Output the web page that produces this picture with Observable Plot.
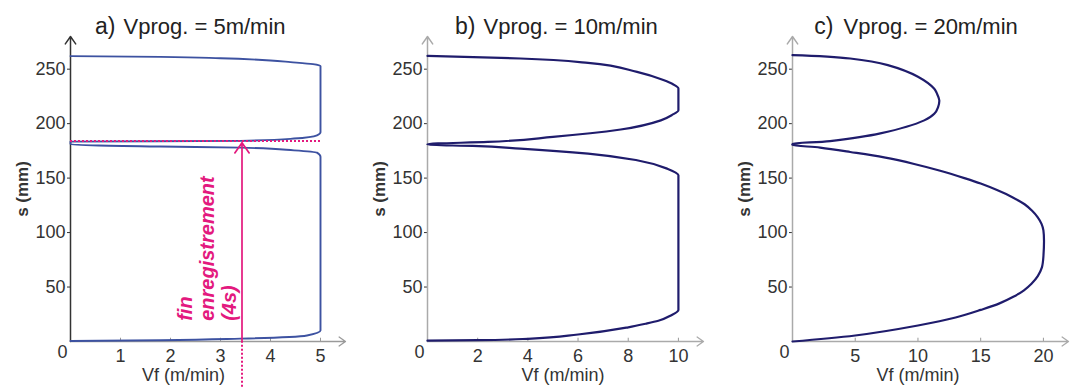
<!DOCTYPE html>
<html>
<head>
<meta charset="utf-8">
<script src="https://cdn.jsdelivr.net/npm/d3@7"></script>
<script src="https://cdn.jsdelivr.net/npm/@observablehq/plot@0.6"></script>
<style>
  html, body { margin: 0; padding: 0; background: #fff; }
  #wrap { position: relative; width: 1070px; height: 388px; overflow: hidden; }
  .panel { position: absolute; top: 0; }
  svg { overflow: visible; }
</style>
</head>
<body>
<div id="wrap"></div>
<script>
// ---- data (s in mm, Vf in m/min) ----
const yTicks = [50, 100, 150, 200, 250];
const yMax = 280;

// a) Vprog = 5 m/min
const aS = [0.5, 1.2, 2.6, 5.5, 10, 169.5, 173.4, 175.5, 178, 179, 181,
            183.5, 184.2, 186.3, 189.3, 192, 253, 254.6, 256.5, 258, 260, 261.3, 262];
const aV = [0, 1.8, 3.4, 4.73, 5, 5, 4.93, 4.47, 3.4, 1.8, 0,
            0, 3.4, 4.47, 4.93, 5, 5, 4.85, 4.4, 4, 3, 1.8, 0];
const aXTicks = [1, 2, 3, 4, 5];

// b) Vprog = 10 m/min
const bS = [0.8, 1.2, 2.5, 6.4, 13, 16.3, 19, 23.9, 29, 152.6, 158.7, 166.4, 172.5, 177.1, 179.5, 180.6,
            181.2, 183.2, 187.8, 194.6, 203, 208, 212.3, 232.3, 236, 240, 247.5, 255.8, 259.8, 262.2];
const bV = [0, 2, 4, 6, 8, 8.7, 9.2, 9.7, 10, 10, 9.55, 8.35, 6.4, 3.7, 1.8, 0,
            0, 2.4, 5.0, 7.7, 9.3, 9.75, 10, 10, 9.8, 9.4, 8.35, 6.4, 3.7, 0];
const bXTicks = [2, 4, 6, 8, 10];

// c) Vprog = 20 m/min
const cS = [0, 5.5, 14.7, 22, 29, 35, 41, 47, 53, 60, 68, 78, 102, 108, 114, 120, 126, 132, 139, 145, 150, 157, 163, 169, 174, 178, 180.6,
            181.2, 184, 191, 203, 209, 215, 221.5, 228, 232, 243, 253.7, 259.8, 262.9];
const cV = [0, 5, 10, 13, 15, 16.5, 17.6, 18.45, 19.05, 19.55, 19.88, 20, 20, 19.85, 19.55, 19.1, 18.5, 17.6, 16.3, 15.0, 13.7, 11.7, 9.7, 7.3, 4.6, 2.2, 0,
            0, 3.0, 7.0, 10.5, 11.3, 11.6, 11.7, 11.5, 11.3, 10, 7.6, 4.6, 0];
const cXTicks = [5, 10, 15, 20];

// annotation of panel a
const finV = 3.43;          // Vf where recording ends
const finS = 184;           // s where recording ends
const finText = ["fin\nenregistrement\n(4s)"];

const titles = ["a)", "b)", "c)"];
const subtitles = ["Vprog. = 5m/min", "Vprog. = 10m/min", "Vprog. = 20m/min"];

const pink = "#e3197e";
const font = "'Liberation Sans', Arial, Helvetica, sans-serif";

const panels = [
  {S: aS, V: aV, xTicks: aXTicks, xMax: 5.5, left: 0, width: 357, mL: 70, mR: 12,
   line: "#3d52a1", lineW: 1.9, xAxis: "#9a9a9a", yAxis: "#333", labelX: 2.26,
   titleDx: 45, subDx: 53, annot: true, curve: "monotone-y"},
  {S: bS, V: bV, xTicks: bXTicks, xMax: 11, left: 357, width: 357, mL: 70, mR: 11,
   line: "#1f1c6c", lineW: 2.2, xAxis: "#aaa", yAxis: "#aaa", labelX: 5.4,
   titleDx: 48, subDx: 56, annot: false, curve: "monotone-y"},
  {S: cS, V: cV, xTicks: cXTicks, xMax: 22, left: 714, width: 356, mL: 78, mR: 2,
   line: "#1f1c6c", lineW: 2.2, xAxis: "#aaa", yAxis: "#aaa", labelX: 10,
   titleDx: 41, subDx: 51, annot: false, curve: "catmull-rom"}
];

const wrap = document.getElementById("wrap");

panels.forEach((p, i) => {
  const data = p.S.map((s, k) => ({s, v: p.V[k]}));
  const marks = [
    Plot.axisY({ticks: yTicks, tickSize: 3, tickPadding: 2, label: null, fontSize: 18}),
    Plot.axisX({ticks: p.xTicks, tickFormat: d3.format("d"), tickSize: 0, tickPadding: 8, label: null, fontSize: 18}),
    Plot.ruleX(p.xTicks, {x: d => d, y1: 0, y2: 3, stroke: "#999"}),
    Plot.arrow([0], {x1: 0, y1: 0, x2: p.xMax, y2: 0, stroke: p.xAxis, strokeWidth: 1.3, headLength: 9, headAngle: 70}),
    Plot.arrow([0], {x1: 0, y1: 0, x2: 0, y2: yMax, stroke: p.yAxis, strokeWidth: 1.5, headLength: 9, headAngle: 70}),
    Plot.line(data, {x: "v", y: "s", curve: p.curve, stroke: p.line, strokeWidth: p.lineW}),
    Plot.text(["0"], {x: 0, y: 0, dx: -8, dy: 11, fontSize: 18, fill: "#333"}),
    Plot.text(["s (mm)"], {frameAnchor: "left", dx: -48, rotate: -90, textAnchor: "middle", lineAnchor: "middle",
                            fontSize: 17, fontWeight: "bold", fill: "#333"}),
    Plot.text(["Vf (m/min)"], {x: p.labelX, y: 0, dy: 34, fontSize: 18, fill: "#333"}),
    Plot.text([titles[i]], {frameAnchor: "top-left", dx: p.titleDx, dy: -3, textAnchor: "end", lineAnchor: "bottom", fontSize: 23, fill: "#222"}),
    Plot.text([subtitles[i]], {frameAnchor: "top-left", dx: p.subDx, dy: -3, textAnchor: "start", lineAnchor: "bottom", fontSize: 22, fill: "#222"})
  ];
  if (p.annot) {
    marks.push(
      Plot.ruleY([finS], {x1: 0, x2: 5, stroke: pink, strokeWidth: 2, strokeDasharray: "2,2"}),
      Plot.ruleX([finV], {y1: -42, y2: 0, stroke: pink, strokeWidth: 2, strokeDasharray: "2,2"}),
      Plot.arrow([0], {x1: finV, y1: 0, x2: finV, y2: finS - 1.5, stroke: pink, strokeWidth: 1.7, headLength: 11, headAngle: 70}),
      Plot.text(finText, {x: 2.72, y: 19, rotate: -90, textAnchor: "start", lineAnchor: "middle", lineHeight: 1.1,
                          fill: pink, fontWeight: "bold", fontStyle: "italic", fontSize: 20})
    );
  }
  const chart = Plot.plot({
    width: p.width,
    height: 388,
    marginLeft: p.mL,
    marginRight: p.mR,
    marginTop: 36,
    marginBottom: 47,
    x: {domain: [0, p.xMax]},
    y: {domain: [0, yMax]},
    style: {fontFamily: font, fontSize: "18px", color: "#333", background: "transparent", overflow: "visible"},
    marks
  });
  const div = document.createElement("div");
  div.className = "panel";
  div.style.left = p.left + "px";
  div.appendChild(chart);
  wrap.appendChild(div);
});
</script>
</body>
</html>
